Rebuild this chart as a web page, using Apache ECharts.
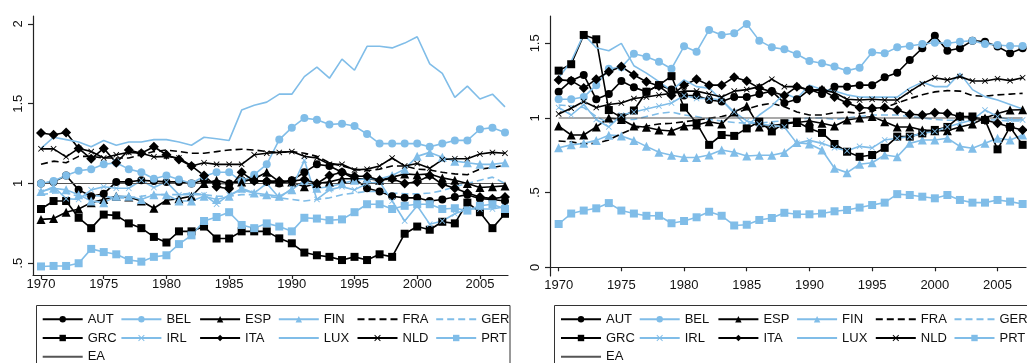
<!DOCTYPE html>
<html><head><meta charset="utf-8">
<script src="https://cdn.jsdelivr.net/npm/echarts@6/dist/echarts.min.js"></script>
<style>html,body{margin:0;padding:0;background:#fff}#c{width:1027px;height:363px}</style>
</head><body><div id="c"></div>
<script>
const years = [1970,1971,1972,1973,1974,1975,1976,1977,1978,1979,1980,1981,1982,1983,1984,1985,1986,1987,1988,1989,1990,1991,1992,1993,1994,1995,1996,1997,1998,1999,2000,2001,2002,2003,2004,2005,2006,2007];
const xTicks = [1970,1975,1980,1985,1990,1995,2000,2005];
const yTicksLeft = [0.5,1,1.5,2];
const yTicksRight = [0,0.5,1,1.5];
const names = ['AUT','BEL','ESP','FIN','FRA','GER','GRC','IRL','ITA','LUX','NLD','PRT','EA'];

// Left panel
const AUT_L = [1.0,1.01,1.05,0.96,0.92,0.935,1.01,1.01,1.02,1.015,1.01,1.01,1.0,1.02,1.0,1.0,1.02,1.02,1.01,1.0,1.02,1.07,1.12,1.11,1.07,1.03,0.97,0.95,0.92,0.91,0.91,0.89,0.90,0.915,0.93,0.905,0.90,0.89];
const BEL_L = [1.0,1.015,1.05,1.08,1.09,1.12,1.13,1.09,1.07,1.03,1.05,1.025,1.0,1.045,1.07,1.07,1.015,1.055,1.12,1.275,1.35,1.41,1.40,1.37,1.375,1.36,1.31,1.25,1.25,1.25,1.25,1.23,1.25,1.27,1.27,1.34,1.35,1.32];
const ESP_L = [0.775,0.78,0.82,0.84,0.88,0.90,0.92,0.915,0.89,0.845,0.895,0.905,0.92,1.0,1.02,1.0,1.01,1.03,1.07,1.01,1.01,0.98,1.0,1.01,1.03,1.03,1.03,1.02,1.04,1.06,1.055,1.06,1.035,1.02,1.0,0.975,0.98,0.985];
const FIN_L = [0.95,0.97,0.96,0.93,0.89,0.88,0.92,0.92,0.90,0.93,0.93,0.89,0.89,0.92,0.90,0.92,0.97,0.94,0.93,0.92,0.96,1.02,0.97,0.98,1.0,1.02,1.03,1.03,1.05,1.09,1.17,1.195,1.165,1.14,1.13,1.12,1.12,1.13];
const FRA_L = [1.12,1.14,1.13,1.17,1.17,1.16,1.16,1.16,1.18,1.20,1.21,1.20,1.19,1.19,1.20,1.21,1.215,1.21,1.20,1.195,1.20,1.19,1.17,1.13,1.11,1.09,1.08,1.09,1.11,1.11,1.09,1.085,1.07,1.06,1.055,1.09,1.10,1.115];
const GER_L = [0.93,0.94,0.94,0.92,0.925,0.92,0.91,0.91,0.92,0.93,0.93,0.93,0.94,0.93,0.92,0.92,0.93,0.93,0.92,0.91,0.90,0.89,0.90,0.91,0.93,0.94,0.95,0.95,0.94,0.935,0.935,0.94,0.955,0.98,1.0,1.02,1.04,1.0];
const GRC_L = [0.84,0.89,0.89,0.785,0.72,0.805,0.80,0.75,0.72,0.665,0.63,0.70,0.70,0.73,0.655,0.655,0.70,0.70,0.70,0.656,0.625,0.567,0.55,0.54,0.52,0.54,0.52,0.556,0.54,0.685,0.73,0.71,0.76,0.75,0.88,0.82,0.72,0.81];
const IRL_L = [0.945,0.98,0.905,0.90,0.96,0.98,0.97,0.97,1.02,0.975,1.01,0.93,0.93,0.93,0.87,0.93,0.96,0.94,1.0,0.91,0.97,1.145,0.90,0.96,0.98,0.96,1.0,1.01,0.89,0.765,0.86,0.745,0.765,0.81,0.84,0.84,0.84,0.855];
const ITA_L = [1.317,1.306,1.32,1.22,1.155,1.22,1.13,1.21,1.19,1.23,1.18,1.15,1.11,1.05,0.98,0.967,1.07,1.015,1.015,1.015,1.015,1.025,1.0,1.05,1.07,1.045,1.045,1.02,1.03,1.0,1.01,1.05,0.995,0.97,0.94,0.915,0.905,0.915];
const LUX_L = [1.22,1.29,1.275,1.26,1.23,1.27,1.24,1.26,1.26,1.275,1.275,1.26,1.24,1.29,1.28,1.27,1.46,1.49,1.51,1.56,1.56,1.67,1.73,1.66,1.78,1.71,1.86,1.86,1.85,1.88,1.92,1.75,1.69,1.54,1.61,1.53,1.56,1.48];
const NLD_L = [1.217,1.217,1.167,1.22,1.20,1.16,1.18,1.195,1.19,1.167,1.17,1.16,1.11,1.13,1.12,1.12,1.12,1.18,1.19,1.195,1.20,1.17,1.16,1.12,1.12,1.085,1.09,1.11,1.16,1.11,1.125,1.095,1.15,1.155,1.155,1.185,1.195,1.19];
const PRT_L = [0.48,0.483,0.483,0.50,0.59,0.57,0.556,0.52,0.51,0.54,0.55,0.62,0.675,0.765,0.79,0.82,0.74,0.72,0.75,0.73,0.70,0.785,0.78,0.77,0.775,0.82,0.87,0.87,0.84,0.86,0.87,0.87,0.84,0.845,0.83,0.86,0.87,0.84];
const EA_L = [1,1,1,1,1,1,1,1,1,1,1,1,1,1,1,1,1,1,1,1,1,1,1,1,1,1,1,1,1,1,1,1,1,1,1,1,1,1];

// Right panel
const AUT_R = [1.176,1.25,1.288,1.125,1.16,1.248,1.205,1.176,1.22,1.19,1.15,1.15,1.12,1.11,1.14,1.14,1.16,1.18,1.10,1.125,1.19,1.16,1.21,1.21,1.22,1.22,1.273,1.303,1.388,1.467,1.55,1.45,1.467,1.518,1.51,1.478,1.433,1.467];
const BEL_R = [1.125,1.125,1.14,1.22,1.33,1.34,1.43,1.41,1.377,1.33,1.48,1.444,1.59,1.556,1.567,1.63,1.518,1.473,1.46,1.427,1.382,1.366,1.344,1.317,1.337,1.44,1.433,1.473,1.482,1.496,1.504,1.50,1.511,1.518,1.496,1.489,1.482,1.482];
const ESP_R = [0.946,0.886,0.886,0.94,1.0,0.99,0.946,0.938,0.92,0.913,0.946,0.953,0.975,0.96,1.04,1.08,0.94,0.95,0.96,0.97,0.98,0.965,0.946,0.987,1.0,1.01,0.975,0.94,0.94,0.92,0.915,0.915,0.94,0.96,1.0,1.03,1.053,1.055];
const FIN_R = [0.80,0.82,0.83,0.85,0.885,0.88,0.85,0.81,0.77,0.75,0.735,0.735,0.752,0.786,0.77,0.745,0.75,0.75,0.768,0.835,0.826,0.786,0.663,0.634,0.69,0.70,0.752,0.74,0.83,0.853,0.853,0.864,0.81,0.797,0.83,0.864,0.853,0.886];
const FRA_R = [0.846,0.84,0.826,0.83,0.853,0.895,0.93,0.945,0.96,0.965,0.975,0.985,0.998,1.01,1.03,1.06,1.085,1.098,1.075,1.04,1.02,1.02,1.035,1.04,1.03,1.045,1.07,1.10,1.13,1.155,1.175,1.183,1.18,1.15,1.145,1.155,1.16,1.165];
const GER_R = [1.087,1.08,1.07,1.01,0.965,0.99,0.99,1.01,1.03,1.04,1.02,1.01,0.99,0.98,0.97,0.965,0.965,0.975,0.98,0.99,1.0,1.0,0.99,1.0,1.01,1.02,1.02,1.02,1.01,1.0,0.99,0.985,0.985,0.99,0.99,0.985,0.98,0.98];
const GRC_R = [1.317,1.36,1.556,1.527,1.053,1.004,1.05,1.176,1.22,1.28,1.07,0.965,0.82,0.886,0.88,0.93,0.975,0.91,0.965,0.975,0.93,0.90,0.826,0.774,0.74,0.752,0.80,0.875,0.875,0.897,0.92,0.94,1.01,1.01,0.987,0.79,0.94,0.82];
const IRL_R = [1.07,1.02,1.09,0.99,0.94,1.02,1.04,1.06,1.08,1.10,1.15,1.13,1.13,1.12,1.04,0.98,0.96,0.95,0.94,0.83,0.85,0.83,0.80,0.78,0.81,0.80,0.853,0.864,0.875,0.897,0.91,0.94,0.965,0.987,1.053,1.01,0.987,0.987];
const ITA_R = [1.255,1.25,1.20,1.26,1.31,1.344,1.288,1.243,1.214,1.15,1.22,1.26,1.22,1.22,1.273,1.248,1.2,1.176,1.15,1.21,1.185,1.187,1.14,1.10,1.07,1.065,1.07,1.053,1.025,1.02,1.035,1.03,1.01,1.0,0.987,0.965,0.94,0.92];
const LUX_R = [1.27,1.38,1.56,1.47,1.45,1.50,1.35,1.30,1.243,1.183,1.255,1.21,1.20,1.12,1.03,0.946,1.02,1.08,1.165,1.13,1.22,1.19,1.18,1.155,1.14,1.14,1.14,1.14,1.2,1.24,1.21,1.21,1.30,1.19,1.143,1.12,1.09,1.06];
const NLD_R = [1.027,1.065,1.11,1.07,1.09,1.10,1.13,1.14,1.154,1.165,1.18,1.18,1.16,1.14,1.18,1.19,1.21,1.26,1.21,1.21,1.187,1.19,1.17,1.125,1.12,1.125,1.12,1.12,1.176,1.23,1.27,1.255,1.277,1.248,1.248,1.263,1.25,1.27];
const PRT_R = [0.29,0.36,0.38,0.395,0.43,0.38,0.36,0.345,0.345,0.295,0.31,0.335,0.372,0.345,0.28,0.285,0.317,0.33,0.365,0.355,0.355,0.36,0.375,0.384,0.40,0.417,0.433,0.49,0.484,0.473,0.462,0.484,0.451,0.433,0.433,0.451,0.44,0.424];
const EA_R = [1,1,1,1,1,1,1,1,1,1,1,1,1,1,1,1,1,1,1,1,1,1,1,1,1,1,1,1,1,1,1,1,1,1,1,1,1,1];

const leftVals = {AUT:AUT_L,BEL:BEL_L,ESP:ESP_L,FIN:FIN_L,FRA:FRA_L,GER:GER_L,GRC:GRC_L,IRL:IRL_L,ITA:ITA_L,LUX:LUX_L,NLD:NLD_L,PRT:PRT_L,EA:EA_L};
const rightVals = {AUT:AUT_R,BEL:BEL_R,ESP:ESP_R,FIN:FIN_R,FRA:FRA_R,GER:GER_R,GRC:GRC_R,IRL:IRL_R,ITA:ITA_R,LUX:LUX_R,NLD:NLD_R,PRT:PRT_R,EA:EA_R};

const BLK = '#000000', LB = '#80bde8';
const XSYM = 'path://M1,0 L5,4 L9,0 L10,1 L6,5 L10,9 L9,10 L5,6 L1,10 L0,9 L4,5 L0,1 Z';
const DIA = 'path://M5,0 L10,5 L5,10 L0,5 Z';
const sty = {
  AUT:{c:BLK,s:'circle',z:8}, BEL:{c:LB,s:'circle',z:8},
  ESP:{c:BLK,s:'triangle',z:9}, FIN:{c:LB,s:'triangle',z:9},
  FRA:{c:BLK,s:'none',d:[7,4]}, GER:{c:LB,s:'none',d:[7,4]},
  GRC:{c:BLK,s:'rect',z:8}, IRL:{c:LB,s:XSYM,z:6},
  ITA:{c:BLK,s:DIA,z:10}, LUX:{c:LB,s:'none'},
  NLD:{c:BLK,s:XSYM,z:6}, PRT:{c:LB,s:'rect',z:8},
  EA:{c:'#555555',s:'none',w:1.1}
};

function mkSeries(vals, idx){
  return names.map(n => {
    const st = sty[n];
    return {
      name:n, type:'line', xAxisIndex:idx, yAxisIndex:idx,
      data: years.map((y,i)=>[y, vals[n][i]]),
      symbol: st.s, symbolSize: st.z || 0, showSymbol: st.s !== 'none', showAllSymbol:true,
      itemStyle:{color:st.c},
      lineStyle:{color:st.c, width: st.w || 1.6, type: st.d || 'solid'},
      animation:false, silent:true
    };
  });
}

const FONT = '"Liberation Sans", Arial, sans-serif';
const fmtY = v => { if (v===0) return '0'; if (v===0.5) return '.5'; return String(v); };
function xAx(idx, min, max){
  return {type:'value', gridIndex:idx, min:min, max:max,
    axisLine:{lineStyle:{color:'#222', width:1.2}},
    axisTick:{customValues:xTicks, length:4, lineStyle:{color:'#222', width:1.2}},
    axisLabel:{customValues:xTicks, margin:3, fontSize:13, color:'#111', fontFamily:FONT, formatter:v=>String(v)},
    splitLine:{show:false}};
}
function yAx(idx, min, max, ticks){
  return {type:'value', gridIndex:idx, min:min, max:max,
    axisLine:{show:true, lineStyle:{color:'#222', width:1.2}},
    axisTick:{show:true, customValues:ticks, length:5, lineStyle:{color:'#222', width:1.2}},
    axisLabel:{customValues:ticks, rotate:90, margin:8, fontSize:13, color:'#111', fontFamily:FONT, formatter:fmtY},
    splitLine:{show:false}};
}

const cols = [['AUT','GRC','EA'],['BEL','IRL'],['ESP','ITA'],['FIN','LUX'],['FRA','NLD'],['GER','PRT']];
function legends(x0){
  return cols.map((c,i)=>({
    data:c.map(n => sty[n].s === 'none' ? {name:n, itemStyle:{opacity:0}} : {name:n}),
    orient:'vertical', left: x0 + i*78.7, top:312.3, height:80, padding:0,
    itemWidth:40, itemHeight:8, itemGap:4.7, selectedMode:false,
    textStyle:{fontSize:13, lineHeight:14, color:'#111', fontFamily:FONT}
  }));
}

const chart = echarts.init(document.getElementById('c'), null, {renderer:'canvas'});
chart.setOption({
  animation:false,
  backgroundColor:'#ffffff',
  grid:[{left:33, top:16, width:475, height:259},{left:550, top:16, width:476, height:260}],
  xAxis:[xAx(0,1969.36,2007.24), xAx(1,1969.31,2007.27)],
  yAxis:[yAx(0,0.4263,2.050,yTicksLeft), yAx(1,-0.0583,1.683,yTicksRight)],
  legend: legends(41.7).concat(legends(560)),
  graphic:[
    {type:'rect', shape:{x:36.5,y:305.5,width:473.5,height:80}, style:{fill:'none', stroke:'#333', lineWidth:1}},
    {type:'rect', shape:{x:554.5,y:305.5,width:500,height:80}, style:{fill:'none', stroke:'#333', lineWidth:1}}
  ],
  series: mkSeries(leftVals,0).concat(mkSeries(rightVals,1))
});
</script>
</body></html>
